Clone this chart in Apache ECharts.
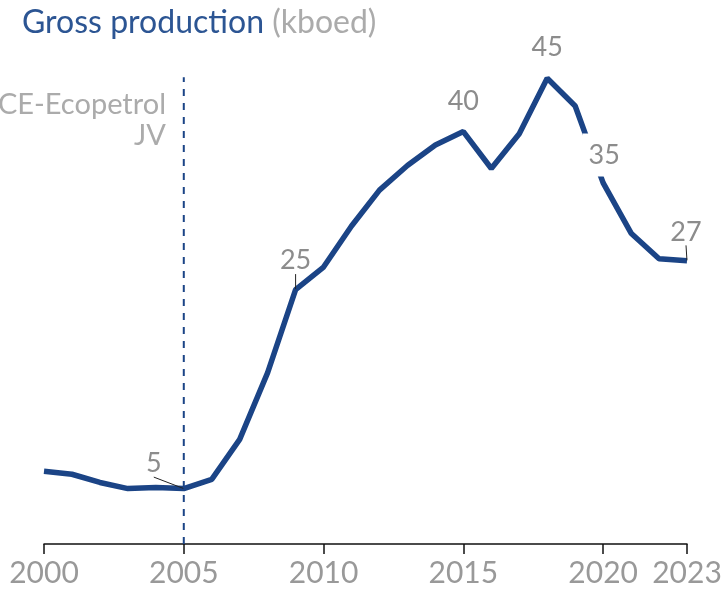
<!DOCTYPE html>
<html>
<head>
<meta charset="utf-8">
<script src="https://cdn.jsdelivr.net/npm/echarts@6/dist/echarts.min.js"></script>
<style>
  html, body { margin: 0; padding: 0; background: #fff; }
  #chart { width: 726px; height: 601px; }
</style>
</head>
<body>
<div id="chart"></div>
<script>
// gross production, kboed
var years = [2000, 2001, 2002, 2003, 2004, 2005, 2006, 2007, 2008, 2009, 2010, 2011,
  2012, 2013, 2014, 2015, 2016, 2017, 2018, 2019, 2020, 2021, 2022, 2023];
var production = [6.7, 6.4, 5.6, 5.0, 5.1, 5.0, 5.9, 9.8, 16.3, 24.4, 26.6, 30.6,
  34.1, 36.5, 38.5, 39.8, 36.2, 39.6, 45.0, 42.3, 34.8, 29.9, 27.4, 27.2];
var tickYears = [2000, 2005, 2010, 2015, 2020, 2023];
var labelled = { 2005: '5', 2009: '25', 2015: '40', 2018: '45', 2020: '35', 2023: '27' };
var jvYear = 2005;
var jvSpan = [-0.4, 45.1];

var blue = '#1b4486';
var grey = '#8c8c8c';

// where each label sits relative to its point (px)
var labelMove = {
  2005: [-30, -25],
  2009: [0, -29],
  2015: [0, -30],
  2018: [0, -31],
  2020: [1, -28],
  2023: [-1, -29]
};

var chart = echarts.init(document.getElementById('chart'));

var points = years.map(function (y, i) {
  var p = { value: [y, production[i]] };
  if (labelled[y]) {
    p.label = { show: true, formatter: labelled[y], position: 'inside' };
    p.labelLine = { show: true };
  }
  if (y === 2020) {
    p.label.backgroundColor = '#fff';
    p.label.padding = [9, 6, 7, 6];
  }
  if (y === 2015 || y === 2018 || y === 2020) {
    p.labelLine = { show: false };
  }
  return p;
});

chart.setOption({
  animation: false,
  title: {
    left: 17,
    top: 2,
    text: '{a|Gross production}{b| (kboed)}',
    textStyle: {
      rich: {
        a: { fontFamily: 'Lato', fontSize: 32, fontWeight: 'normal', color: '#2c5593' },
        b: { fontFamily: 'Lato', fontSize: 32, fontWeight: 'normal', color: '#ababab' }
      }
    }
  },
  graphic: [{
    type: 'text',
    x: 166,
    y: 89,
    style: {
      text: 'CE-Ecopetrol\nJV',
      align: 'right',
      textAlign: 'right',
      fontFamily: 'Lato',
      fontSize: 29,
      lineHeight: 31,
      fill: '#ababab'
    }
  }],
  grid: { left: 44, right: 39, top: 68, bottom: 57 },
  xAxis: {
    type: 'value',
    min: 2000,
    max: 2023,
    splitLine: { show: false },
    axisLine: { show: true, onZero: false, lineStyle: { color: '#111', width: 1.5 } },
    axisTick: { show: true, length: 10, customValues: tickYears, lineStyle: { color: '#111', width: 1.5 } },
    axisLabel: {
      customValues: tickYears,
      color: '#999',
      fontFamily: 'Lato',
      fontSize: 30,
      margin: 14,
      formatter: function (v) { return String(v); }
    }
  },
  yAxis: {
    type: 'value',
    min: -0.4,
    max: 46,
    show: false,
    splitLine: { show: false }
  },
  series: [{
    type: 'line',
    data: [[jvYear, jvSpan[0]], [jvYear, jvSpan[1]]],
    symbol: 'none',
    silent: true,
    lineStyle: { color: blue, width: 2, type: [7, 7] },
    z: 1
  }, {
    type: 'line',
    data: points,
    symbol: 'circle',
    symbolSize: 1,
    showSymbol: true,
    itemStyle: { color: 'rgba(0,0,0,0)' },
    lineStyle: { color: blue, width: 5.5 },
    label: { color: grey, fontFamily: 'Lato', fontSize: 27 },
    labelLine: { lineStyle: { color: '#222', width: 1 } },
    labelLayout: function (params) {
      var m = labelMove[years[params.dataIndex]];
      return m ? { dx: m[0], dy: m[1] } : {};
    },
    z: 2
  }]
});
</script>
</body>
</html>
